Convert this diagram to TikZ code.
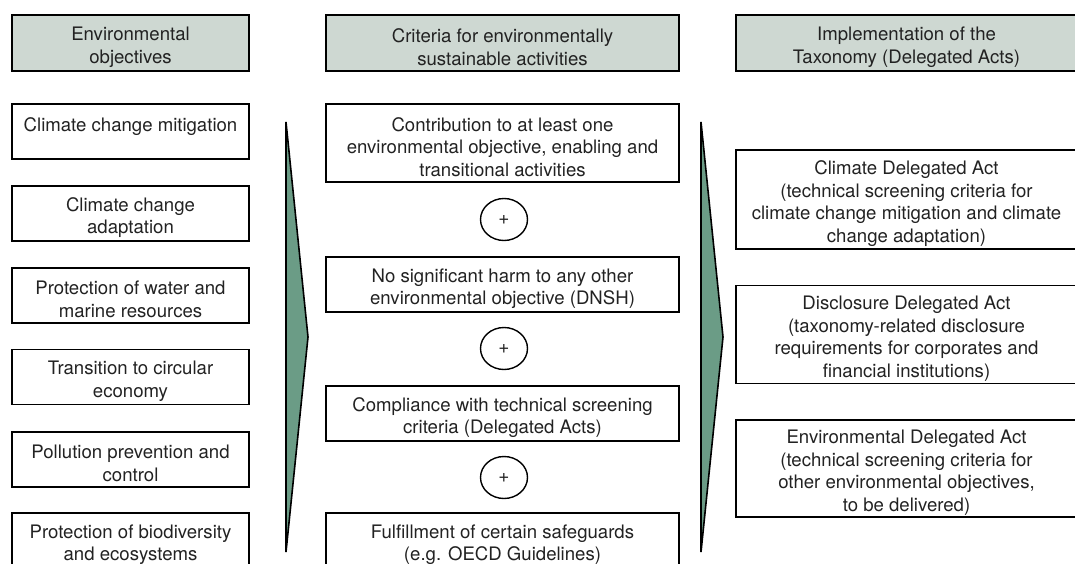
\documentclass[tikz,border=0pt]{standalone}
\usepackage{fontspec}
\setmainfont{TeX Gyre Heros}
\usetikzlibrary{shapes.geometric}
\definecolor{hdrfill}{HTML}{CED8D2}
\definecolor{arrfill}{HTML}{6B9C86}
\definecolor{txt}{HTML}{222222}
\begin{document}
\begin{tikzpicture}[x=1pt,y=-1pt,
  boxtext/.style={align=center,inner sep=0pt,yshift=-4pt,
    font=\fontsize{18.6}{22.5}\selectfont,text=txt},
  box/.style={draw=black,line width=1.6pt,rectangle,inner sep=0pt,
    label={[boxtext]center:{#1}}},
  hdr/.style={box=#1,fill=hdrfill},
  plusc/.style={draw=black,line width=1.4pt,ellipse,minimum width=47pt,minimum height=42pt,inner sep=0pt,
    font=\fontsize{19}{20}\selectfont,text=txt},
  bigarrow/.style={draw=black,line width=1.6pt,fill=arrfill,line join=miter}]
\useasboundingbox (0,0) rectangle (1075,564);
% headers
\node[hdr={Environmental\\objectives},minimum width=237pt,minimum height=56pt] (h1) at (130.5,43) {};
\node[hdr={Criteria for environmentally\\sustainable activities},minimum width=353pt,minimum height=56pt] (h2) at (502.5,43) {};
\node[hdr={Implementation of the\\Taxonomy (Delegated Acts)},minimum width=341pt,minimum height=56pt] (h3) at (906.5,43) {};
% left column
\node[box={Climate change mitigation\\\mbox{}},minimum width=237pt,minimum height=55pt] (l1) at (130.5,131.5) {};
\node[box={Climate change\\adaptation},minimum width=237pt,minimum height=55pt] (l2) at (130.5,213.5) {};
\node[box={Protection of water and\\marine resources},minimum width=237pt,minimum height=55pt] (l3) at (130.5,295.5) {};
\node[box={Transition to circular\\economy},minimum width=237pt,minimum height=55pt] (l4) at (130.5,377) {};
\node[box={Pollution prevention and\\control},minimum width=237pt,minimum height=55pt] (l5) at (130.5,459.5) {};
\node[box={Protection of biodiversity\\and ecosystems},minimum width=237pt,minimum height=55pt] (l6) at (130.5,540.5) {};
% left arrow
\draw[bigarrow] (286,122) -- (308,337) -- (286,552) -- cycle;
% middle column
\node[box={Contribution to at least one\\environmental objective, enabling and\\transitional activities},minimum width=353pt,minimum height=78pt] (m1) at (502.5,143) {};
\node[plusc] (p1) at (504,219.5) {+};
\node[box={No significant harm to any other\\environmental objective (DNSH)},minimum width=353pt,minimum height=55pt] (m2) at (502.5,284.5) {};
\node[plusc] (p2) at (504,348.5) {+};
\node[box={Compliance with technical screening\\criteria (Delegated Acts)},minimum width=353pt,minimum height=55pt] (m3) at (502.5,413.5) {};
\node[plusc] (p3) at (504,477.5) {+};
\node[box={Fulfillment of certain safeguards\\(e.g. OECD Guidelines)},minimum width=353pt,minimum height=55pt] (m4) at (502.5,540.5) {};
% right arrow
\draw[bigarrow] (701,122) -- (723,337) -- (701,552) -- cycle;
% right column
\node[box={Climate Delegated Act\\(technical screening criteria for\\climate change mitigation and climate\\change adaptation)},minimum width=341pt,minimum height=99pt] (r1) at (906.5,199.5) {};
\node[box={Disclosure Delegated Act\\(taxonomy-related disclosure\\requirements for corporates and\\financial institutions)},minimum width=341pt,minimum height=98pt] (r2) at (906.5,334.5) {};
\node[box={Environmental Delegated Act\\(technical screening criteria for\\other environmental objectives,\\to be delivered)},minimum width=341pt,minimum height=97pt] (r3) at (906.5,468.5) {};
\end{tikzpicture}
\end{document}
